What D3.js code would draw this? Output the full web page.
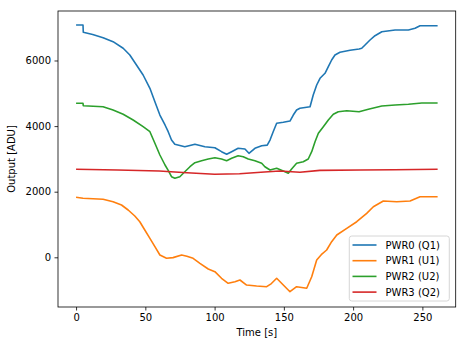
<!DOCTYPE html>
<html><head><meta charset="utf-8">
<script src="https://cdn.jsdelivr.net/npm/d3@7"></script>
<style>body{margin:0;background:#fff}svg{display:block}text{font-family:"DejaVu Sans",sans-serif}</style>
</head><body><svg id="c" width="466" height="347"></svg>
<script>
const seriesNames = ["PWR0 (Q1)", "PWR1 (U1)", "PWR2 (U2)", "PWR3 (Q2)"];
const colors = ["#1f77b4", "#ff7f0e", "#2ca02c", "#d62728"];
const xTicks = [0, 50, 100, 150, 200, 250];
const yTicks = [0, 2000, 4000, 6000];

const tPwr0 = [0, 5, 5.2, 12, 19.5, 26.7, 34, 38.8, 43.6, 48.4, 53.3, 56.9, 60.5, 64.2, 66.5, 68.9, 71.3, 78.5, 85.8, 93, 100.2, 105, 108.7, 112.3, 117, 121.9, 124.8, 129.1, 134, 138, 140, 142.3, 144.8, 149.6, 154.4, 156.8, 159.2, 161.6, 168.9, 171.2, 173.7, 176.1, 179.7, 182.1, 184.5, 186.9, 190.5, 197.8, 204.3, 206.2, 208.6, 212.2, 215.8, 220.7, 230.3, 239.9, 244.7, 248.3, 261];
const pwr0 = [7080, 7080, 6860, 6790, 6695, 6573, 6372, 6168, 5863, 5558, 5152, 4744, 4338, 4034, 3829, 3576, 3445, 3372, 3445, 3372, 3341, 3220, 3140, 3220, 3323, 3302, 3171, 3323, 3402, 3420, 3576, 3829, 4085, 4116, 4155, 4338, 4491, 4543, 4591, 4948, 5253, 5457, 5610, 5811, 6015, 6168, 6250, 6311, 6351, 6372, 6473, 6625, 6756, 6878, 6930, 6930, 6982, 7061, 7061];

const tPwr1 = [0, 5, 19.5, 26.7, 32.8, 37.6, 42.4, 46, 49.6, 53.3, 56.9, 60.5, 65.3, 70, 76.2, 80, 84.5, 89.4, 95.4, 100.2, 105, 109.8, 114.7, 118.3, 123.1, 130.3, 137.6, 141, 144.8, 149.6, 154.4, 159.2, 166.5, 170.1, 173.7, 177, 180.9, 184.5, 188.2, 195.4, 202.6, 209.8, 214.6, 221.8, 231.5, 241.1, 248.3, 261];
const pwr1 = [1829, 1799, 1768, 1695, 1595, 1442, 1259, 1085, 832, 579, 323, 70, -30, -10, 70, 30, -30, -183, -357, -438, -640, -793, -743, -692, -845, -875, -896, -800, -640, -845, -1049, -896, -945, -591, -82, 80, 223, 476, 680, 884, 1085, 1341, 1543, 1716, 1695, 1716, 1848, 1848];

const tPwr2 = [0, 5, 5.2, 19.5, 26.7, 34, 41.2, 48.4, 53.3, 56.9, 60.5, 64.2, 66.5, 68.9, 71.3, 74.9, 78.5, 82.2, 85.8, 90.6, 95.4, 100.2, 105, 108.7, 112.3, 117, 120.7, 124.3, 129.1, 134, 136.3, 140, 144.8, 149.6, 153.2, 155.6, 159.2, 164, 167.6, 170.1, 172.5, 174.9, 178.5, 182.1, 185.7, 189.3, 195.4, 204.3, 211, 220.7, 230.3, 239.9, 249.6, 261];
const pwr2 = [4695, 4695, 4622, 4591, 4491, 4360, 4186, 3982, 3829, 3476, 3119, 2814, 2650, 2457, 2408, 2457, 2610, 2762, 2884, 2945, 2997, 3037, 2997, 2945, 3017, 3098, 3067, 2997, 2945, 2866, 2762, 2662, 2713, 2631, 2561, 2692, 2866, 2915, 2997, 3220, 3524, 3780, 3982, 4186, 4360, 4439, 4470, 4439, 4512, 4613, 4643, 4665, 4704, 4704];

const tPwr3 = [0, 30, 60, 80, 100, 118, 136, 147, 161.6, 176, 205, 230, 261];
const pwr3 = [2683, 2660, 2631, 2580, 2530, 2549, 2600, 2630, 2591, 2650, 2662, 2670, 2683];

const xDomain = [-13.05, 274.05];
const yDomain = [-1515, 7509];

const W = 466, H = 347;
const m = {left: 58, top: 11, right: 10.3, bottom: 40};
const svg = d3.select("#c");
const x = d3.scaleLinear().domain(xDomain).range([m.left, W - m.right]);
const y = d3.scaleLinear().domain(yDomain).range([H - m.bottom, m.top]);

const series = [
  {t: tPwr0, v: pwr0}, {t: tPwr1, v: pwr1}, {t: tPwr2, v: pwr2}, {t: tPwr3, v: pwr3}
];
const line = d3.line().x(d => x(d[0])).y(d => y(d[1]));
const g = svg.append("g");
series.forEach((s, i) => {
  const pts = s.t.map((t, k) => [t, s.v[k]]);
  g.append("path").attr("d", line(pts)).attr("fill", "none")
    .attr("stroke", colors[i]).attr("stroke-width", 1.6).attr("stroke-linejoin", "round");
});

const xAxis = svg.append("g").attr("transform", `translate(0,${H - m.bottom})`)
  .call(d3.axisBottom(x).tickValues(xTicks).tickSize(3.5).tickPadding(3.5).tickFormat(d3.format("d")));
const yAxis = svg.append("g").attr("transform", `translate(${m.left},0)`)
  .call(d3.axisLeft(y).tickValues(yTicks).tickSize(3.5).tickPadding(3.5).tickFormat(d3.format("d")));
[xAxis, yAxis].forEach(a => {
  a.select(".domain").remove();
  a.selectAll("line").attr("stroke", "#000").attr("stroke-width", 0.8);
  a.selectAll("text").attr("font-size", 10).attr("fill", "#000").attr("font-family", "DejaVu Sans");
});
svg.append("rect").attr("x", m.left).attr("y", m.top)
  .attr("width", W - m.right - m.left).attr("height", H - m.bottom - m.top)
  .attr("fill", "none").attr("stroke", "#000").attr("stroke-width", 0.8);

svg.append("text").attr("x", (m.left + W - m.right) / 2).attr("y", 336)
  .attr("text-anchor", "middle").attr("font-size", 10).text("Time [s]");
svg.append("text").attr("transform", `translate(15,${(m.top + H - m.bottom) / 2}) rotate(-90)`)
  .attr("text-anchor", "middle").attr("font-size", 10).text("Output [ADU]");

const lg = svg.append("g");
lg.append("rect").attr("x", 349.3).attr("y", 236).attr("width", 100).attr("height", 65)
  .attr("rx", 2.5).attr("fill", "#fff").attr("fill-opacity", 0.8)
  .attr("stroke", "#cccccc").attr("stroke-width", 0.8);
seriesNames.forEach((n, i) => {
  const yy = 245 + i * 15.7;
  lg.append("line").attr("x1", 352.5).attr("x2", 376.5).attr("y1", yy).attr("y2", yy)
    .attr("stroke", colors[i]).attr("stroke-width", 1.6);
  lg.append("text").attr("x", 385.5).attr("y", yy).attr("dy", "0.35em")
    .attr("font-size", 10).text(n);
});
</script></body></html>
